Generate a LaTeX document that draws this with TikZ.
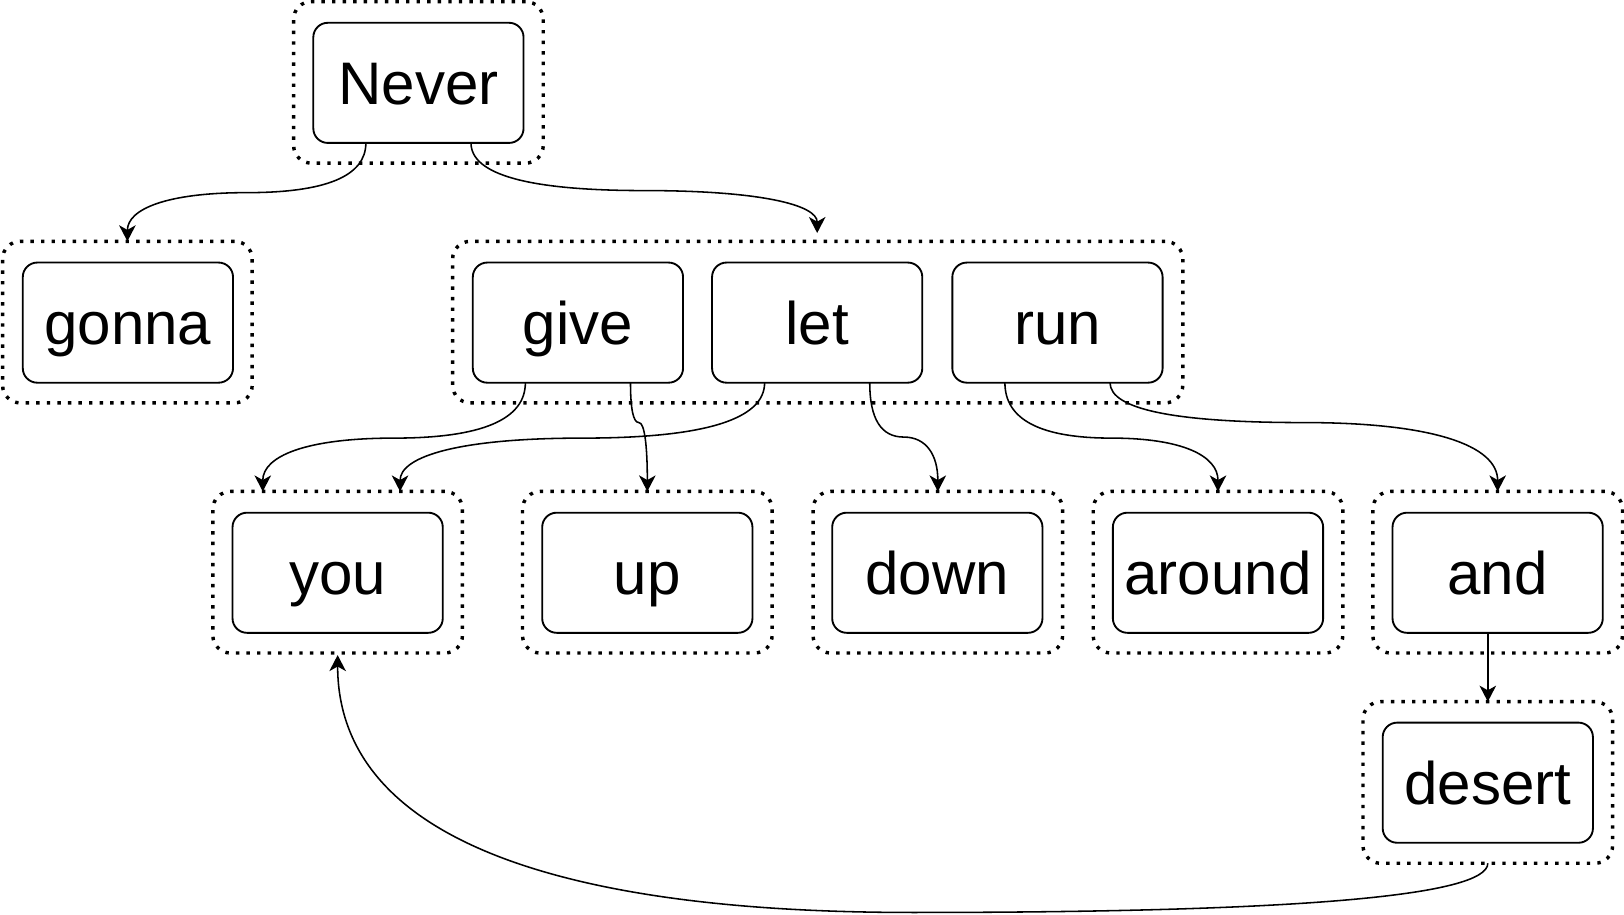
\documentclass[tikz,border=0pt]{standalone}
\usepackage{fontspec}
\setmainfont{Liberation Sans}
\usetikzlibrary{calc,arrows.meta}
\newcommand\qcurve[3]{%
  \path[conn] let \p1=#1, \p2=#2, \n1={(\x1+\x2)/2}, \n2={-(#3)} in
  (\p1) .. controls (\x1,{\y1+2/3*(\n2-(\y1))}) and ({(\n1+2/3*(\x1-\n1))*1pt},{\n2*1pt}) .. ({\n1*1pt},{\n2*1pt})
  .. controls ({(\n1+2/3*(\x2-\n1))*1pt},{\n2*1pt}) and (\x2,{\y2+2/3*(\n2-(\y2))}) .. (\p2);}
\begin{document}
\begin{tikzpicture}[x=1pt,y=-1pt,
  word/.style={draw, line width=1.8pt, rounded corners=14pt, minimum width=203pt, minimum height=116pt,
    inner sep=0pt, outer sep=0pt, font=\fontsize{58}{70}\selectfont, text height=41.8pt, text depth=0pt},
  holder/.style={draw, line width=3.3pt, dash pattern=on 3.3pt off 6.9pt, rounded corners=17pt,
    minimum width=241pt, minimum height=156pt, inner sep=0pt, outer sep=0pt},
  conn/.style={draw, line width=1.5pt, -{Stealth[length=15.5pt,width=16pt,inset=4.5pt]}}]
\useasboundingbox (0,0) rectangle (1568,882.5);

% dotted holders
\node[holder] (oNever) at (404,79.5) {};
\node[holder] (oGonna) at (123,311) {};
\node[holder, minimum width=705pt] (oGrp) at (789.5,311) {};
\node[holder] (oYou) at (326,552.5) {};
\node[holder] (oUp) at (625,552.5) {};
\node[holder] (oDown) at (905.5,552.5) {};
\node[holder] (oAround) at (1176,552.5) {};
\node[holder] (oAnd) at (1446,552.5) {};
\node[holder] (oDesert) at (1436.5,755.5) {};

% word boxes
\node[word] (nNever) at (404,80) {Never};
\node[word] (nGonna) at (123.5,311.5) {gonna};
\node[word] (nGive) at (558,311.5) {give};
\node[word] (nLet) at (789,311.5) {let};
\node[word] (nRun) at (1021,311.5) {run};
\node[word] (nYou) at (326,553) {you};
\node[word] (nUp) at (625,553) {up};
\node[word] (nDown) at (905,553) {down};
\node[word] (nAround) at (1176,553) {around};
\node[word] (nAnd) at (1446,553) {and};
\node[word] (nDesert) at (1436.5,755.7) {desert};

% connectors
\qcurve{($(nNever.south)!0.5!(nNever.south west)$)}{(oGonna.north)}{186}
\qcurve{($(nNever.south)!0.5!(nNever.south east)$)}{($(oGrp.north)+(-0.5,-8)$)}{184}
\qcurve{($(nGive.south)!0.5!(nGive.south west)$)}{($(oYou.north west)!0.2!(oYou.north east)$)}{423}
\qcurve{($(nGive.south)!0.5!(nGive.south east)$)}{(oUp.north)}{408}
\qcurve{($(nLet.south)!0.5!(nLet.south west)$)}{($(oYou.north west)!0.75!(oYou.north east)$)}{423}
\qcurve{($(nLet.south)!0.5!(nLet.south east)$)}{(oDown.north)}{422}
\qcurve{($(nRun.south)!0.5!(nRun.south west)$)}{(oAround.north)}{423}
\qcurve{($(nRun.south)!0.5!(nRun.south east)$)}{(oAnd.north)}{408}
\draw[conn] (nAnd.south -| oDesert.north) -- (oDesert.north);
\qcurve{(oDesert.south)}{($(oYou.south)+(0,2)$)}{881}
\end{tikzpicture}
\end{document}
